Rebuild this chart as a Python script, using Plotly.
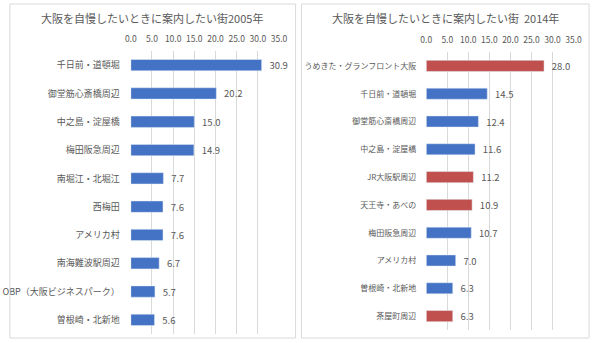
import plotly.graph_objects as go

cats_2005 = ["千日前・道頓堀", "御堂筋心斎橋周辺", "中之島・淀屋橋", "梅田阪急周辺", "南堀江・北堀江",
             "西梅田", "アメリカ村", "南海難波駅周辺", "OBP（大阪ビジネスパーク）", "曽根崎・北新地"]
vals_2005 = [30.9, 20.2, 15.0, 14.9, 7.7, 7.6, 7.6, 6.7, 5.7, 5.6]

cats_2014 = ["うめきた・グランフロント大阪", "千日前・道頓堀", "御堂筋心斎橋周辺", "中之島・淀屋橋", "JR大阪駅周辺",
             "天王寺・あべの", "梅田阪急周辺", "アメリカ村", "曽根崎・北新地", "茶屋町周辺"]
vals_2014 = [28.0, 14.5, 12.4, 11.6, 11.2, 10.9, 10.7, 7.0, 6.3, 6.3]
new_2014 = [True, False, False, False, True, True, False, False, False, True]

tick_vals = [0, 5, 10, 15, 20, 25, 30, 35]
tick_text = ["0.0", "5.0", "10.0", "15.0", "20.0", "25.0", "30.0", "35.0"]

BLUE = "#4472C4"
RED = "#C0504D"
TXT = "#595959"
FONT = "Noto Sans CJK JP"

W, H = 602, 343

def px(x):
    return x / W

def py(y):
    return 1 - y / H

fig = go.Figure()
fig.add_trace(go.Bar(
    x=vals_2005, y=cats_2005, orientation="h", marker_color=BLUE,
    text=[f"\u2002{v:.1f}" for v in vals_2005], textposition="outside", constraintext="none",
    textfont=dict(size=9.5, color=TXT, family=FONT), cliponaxis=False,
    xaxis="x", yaxis="y", width=0.4))
fig.add_trace(go.Bar(
    x=vals_2014, y=cats_2014, orientation="h",
    marker_color=[RED if n else BLUE for n in new_2014],
    text=[f"\u2002{v:.1f}" for v in vals_2014], textposition="outside", constraintext="none",
    textfont=dict(size=9.5, color=TXT, family=FONT), cliponaxis=False,
    xaxis="x2", yaxis="y2", width=0.4))

xcommon = dict(range=[0, 35], tickvals=tick_vals, ticktext=tick_text, side="top",
               showgrid=True, gridcolor="#D9D9D9", gridwidth=1, zeroline=False,
               showline=False, tickfont=dict(size=8.5, color=TXT, family=FONT), ticks="",
               tickangle=0, ticklabelstandoff=6, fixedrange=True)
ycommon = dict(autorange="reversed", showgrid=False, zeroline=False, showline=False, ticks="")

fig.update_layout(
    width=W, height=H, margin=dict(l=0, r=0, t=0, b=0),
    paper_bgcolor="white", plot_bgcolor="white", showlegend=False,
    font=dict(family=FONT, color=TXT),
    xaxis=dict(domain=[px(128), px(280)], anchor="y", **xcommon),
    yaxis=dict(domain=[py(334), py(51)], anchor="x", ticklabelstandoff=10,
               tickfont=dict(size=9, color=TXT, family=FONT), **ycommon),
    xaxis2=dict(domain=[px(431), px(582)], anchor="y2", **xcommon),
    yaxis2=dict(domain=[py(330), py(52)], anchor="x2", ticklabelstandoff=9,
                tickfont=dict(size=8, color=TXT, family=FONT), **ycommon),
    shapes=[
        dict(type="rect", xref="paper", yref="paper", x0=px(4), x1=px(297), y0=py(338), y1=py(4),
             line=dict(color="#D9D9D9", width=1)),
        dict(type="rect", xref="paper", yref="paper", x0=px(303), x1=px(598), y0=py(338), y1=py(4),
             line=dict(color="#D9D9D9", width=1)),
    ],
    annotations=[
        dict(text="大阪を自慢したいときに案内したい街2005年", xref="paper", yref="paper",
             x=px(150), y=py(18), xanchor="center", yanchor="middle", showarrow=False,
             font=dict(size=11, color=TXT, family=FONT)),
        dict(text="大阪を自慢したいときに案内したい街  2014年", xref="paper", yref="paper",
             x=px(451), y=py(18), xanchor="center", yanchor="middle", showarrow=False,
             font=dict(size=11, color=TXT, family=FONT)),
    ],
)

fig.write_html("out.html")
